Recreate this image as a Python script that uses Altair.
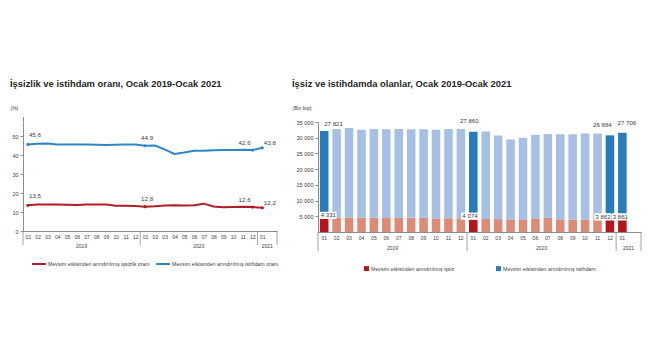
import altair as alt
import pandas as pd

FONT = "Liberation Sans"

# ---------------- data ----------------
month_labels = ["01", "02", "03", "04", "05", "06", "07", "08", "09", "10", "11", "12"]
years = ["2019", "2020", "2021"]
year_bounds = [0, 12, 24, 26]          # category slots where each year block starts/ends
periods = [f"{y}-{m}" for y in ["2019", "2020"] for m in month_labels] + ["2021-01"]
slot_domain = periods + ["2021-02"]    # one empty slot after the last month
highlight = ["2019-01", "2020-01", "2020-12", "2021-01"]

unemp_rate = [13.5, 13.9, 14.0, 14.0, 13.8, 13.7, 13.9, 14.0, 13.9, 13.3, 13.3, 13.2,
              12.8, 13.0, 13.4, 13.5, 13.4, 13.6, 14.4, 12.9, 12.5, 12.6, 12.8, 12.6,
              12.2]
emp_rate = [45.6, 45.9, 46.1, 45.6, 45.5, 45.6, 45.6, 45.4, 45.3, 45.4, 45.6, 45.6,
            44.9, 45.0, 43.0, 40.6, 41.3, 42.2, 42.3, 42.5, 42.6, 42.7, 42.8, 42.6,
            43.8]

unemployed = [4331, 4560, 4630, 4550, 4530, 4480, 4560, 4580, 4545, 4320, 4360, 4330,
              4074, 4150, 4110, 3970, 4020, 4200, 4480, 4020, 3890, 3950, 4010, 3862,
              3861]
employed = [27821, 28240, 28470, 27950, 28270, 28220, 28240, 28120, 28155, 28180, 28440, 28470,
            27860, 27800, 26590, 25460, 25950, 26720, 26660, 27120, 27250, 27380, 27320, 26884,
            27706]

U_RATE = "Mevsim etkisinden arındırılmış işsizlik oranı"
E_RATE = "Mevsim etkisinden arındırılmış istihdam oranı"
U_LBL = "Mevsim etkisinden arındırılmış işsiz"
E_LBL = "Mevsim etkisinden arındırılmış istihdam"
U_LIGHT = "işsiz (diğer aylar)"
E_LIGHT = "istihdam (diğer aylar)"

# ---------------- style ----------------
RED_LINE = "#ad1f25"
BLUE_LINE = "#2f86c6"
DARK_RED = "#b3161c"
SALMON = "#dc8b77"
DARK_BLUE = "#2a7bbb"
LIGHT_BLUE = "#a6c0e4"
AX = "#8c8c8c"
LBL = "#404040"
TXT = "#262626"

month_expr = "datum.value == '2021-02' ? '' : substring(datum.value, 5, 7)"

bounds_df = pd.DataFrame({"b": year_bounds})
years_df = pd.DataFrame({"year": years, "start": year_bounds[:-1], "end": year_bounds[1:]})


def year_layers(h, sep_len, year_dy):
    qx = alt.Scale(domain=[0, 26], nice=False, zero=False)
    seps = alt.Chart(bounds_df).mark_rule(color=AX, strokeWidth=0.8).encode(
        x=alt.X("b:Q", scale=qx, axis=None),
        y=alt.value(h), y2=alt.value(h + sep_len))
    labs = alt.Chart(years_df).transform_calculate(
        mid="(datum.start + datum.end) / 2").mark_text(
        fontSize=5, color=LBL, baseline="middle").encode(
        x=alt.X("mid:Q", scale=qx, axis=None),
        y=alt.value(h + year_dy), text="year:N")
    return alt.layer(seps, labs)


X_AXIS = alt.Axis(title=None, labelExpr=month_expr, ticks=False, labelFontSize=5,
                  labelColor=LBL, labelPadding=3, domainColor=AX, labelAngle=0,
                  grid=False)

# ---------------- left: rates ----------------
W1, H1 = 254, 109
line_df = pd.DataFrame({"period": periods * 2,
                        "series": [U_RATE] * len(periods) + [E_RATE] * len(periods),
                        "value": unemp_rate + emp_rate})

xs1 = alt.Scale(type="point", domain=slot_domain, padding=0.5)
ys1 = alt.Scale(domain=[0, 57.4], nice=False)
Y1_AXIS = alt.Axis(values=[0, 10, 20, 30, 40, 50], title="(%)", titleAngle=0,
                   titleAlign="left", titleBaseline="bottom", titleX=-13, titleY=-12,
                   titleFontSize=5, titleFontWeight="normal", titleColor=LBL,
                   tickSize=3, tickColor=AX, domainColor=AX, labelFontSize=5.5,
                   labelColor=LBL, labelPadding=2, grid=False, labelOverlap=False)
x1 = alt.X("period:N", scale=xs1, axis=X_AXIS)
y1 = alt.Y("value:Q", scale=ys1, axis=Y1_AXIS)

base1 = alt.Chart(line_df)
lines = base1.mark_line(strokeWidth=2).encode(
    x=x1, y=y1,
    color=alt.Color("series:N", scale=alt.Scale(domain=[U_RATE, E_RATE], range=[RED_LINE, BLUE_LINE]),
                    legend=alt.Legend(title=None, orient="none", legendX=8, legendY=134,
                                      direction="horizontal", symbolType="stroke",
                                      symbolStrokeWidth=2, symbolSize=190, labelFontSize=5.3,
                                      labelColor=LBL, columnPadding=2, labelOffset=1,
                                      labelLimit=400)))
pts = base1.transform_filter(
    alt.FieldOneOfPredicate(field="period", oneOf=highlight)).mark_point(
    filled=True, size=10, opacity=1).encode(
    x=x1, y=y1,
    fill=alt.Fill("series:N", scale=alt.Scale(domain=[U_RATE, E_RATE], range=[RED_LINE, BLUE_LINE]),
                  legend=None))

# y-axis line continues a little above the top tick, as in the original
axis_top = alt.Chart(pd.DataFrame({"k": [0]})).mark_rule(color=AX, strokeWidth=1).encode(
    x=alt.value(0.5), y=alt.value(-5), y2=alt.value(0))

left_label_style = {"2019-01": ("left", 1, -9),
                    "2020-01": ("center", 2, -7.5),
                    "2020-12": ("right", -2, -7.5),
                    "2021-01": ("left", 1.5, -5)}
lbl1 = []
for p, (al, dx, dy) in left_label_style.items():
    lbl1.append(base1.transform_filter(alt.datum.period == p).transform_calculate(
        lab="replace(format(datum.value, '.1f'), '.', ',')").mark_text(
        align=al, dx=dx, dy=dy, baseline="middle", fontSize=6.2, color=LBL).encode(
        x=x1, y=y1, text="lab:N"))

left = alt.layer(alt.layer(lines, pts, *lbl1), year_layers(H1, 14, 15), axis_top).resolve_scale(
    x="independent").properties(
    width=W1, height=H1,
    title=alt.TitleParams("İşsizlik ve istihdam oranı, Ocak 2019-Ocak 2021", anchor="start",
                          frame="bounds", fontSize=9.4, fontWeight="bold", color=TXT,
                          offset=16))

# ---------------- right: levels ----------------
W2, H2 = 323, 110
bar_rows = []
for i, p in enumerate(periods):
    hl = p in highlight
    bar_rows.append({"period": p, "key": U_LBL if hl else U_LIGHT, "value": unemployed[i], "ord": 0})
    bar_rows.append({"period": p, "key": E_LBL if hl else E_LIGHT, "value": employed[i], "ord": 1})
bar_df = pd.DataFrame(bar_rows)

xs2 = alt.Scale(type="band", domain=slot_domain, paddingInner=0.31, paddingOuter=0.155)
yscale2 = alt.Scale(domain=[0, 35000], nice=False)
Y2_AXIS = alt.Axis(values=[5000, 10000, 15000, 20000, 25000, 30000, 35000],
                   labelExpr="replace(format(datum.value, ','), ',', ' ')",
                   title="(Bin kişi)", titleAngle=0, titleAlign="left",
                   titleBaseline="bottom", titleX=-26, titleY=-12, titleFontSize=5,
                   titleFontWeight="normal", titleColor=LBL, tickSize=3, tickColor=AX,
                   domainColor=AX, labelFontSize=5.6, labelColor=LBL, labelPadding=2,
                   grid=False, labelOverlap=False)
x2 = alt.X("period:N", scale=xs2, axis=X_AXIS)
y2 = alt.Y("value:Q", stack="zero", scale=yscale2, axis=Y2_AXIS)

bars = alt.Chart(bar_df).mark_bar().encode(
    x=x2, y=y2,
    color=alt.Color("key:N",
                    scale=alt.Scale(domain=[U_LBL, U_LIGHT, E_LBL, E_LIGHT],
                                    range=[DARK_RED, SALMON, DARK_BLUE, LIGHT_BLUE]),
                    legend=alt.Legend(title=None, values=[U_LBL, E_LBL], orient="none",
                                      legendX=45, legendY=143, direction="horizontal",
                                      symbolType="square", symbolSize=25, labelFontSize=5.3,
                                      labelColor=LBL, columnPadding=40, labelOffset=1,
                                      labelLimit=400)),
    order=alt.Order("ord:Q", sort="ascending"))

lab_df = pd.DataFrame({"period": periods, "u": unemployed, "e": employed})
lab_df["total"] = lab_df["u"] + lab_df["e"]
# (period, field, align, dx, dy, white-box x offset)
right_label_style = [
    ("2019-01", "e", "left", 0, -7, None), ("2019-01", "u", "left", -3.5, -3, 3.7),
    ("2020-01", "e", "center", -4, -11, None), ("2020-01", "u", "center", -3.3, -3, -3.5),
    ("2020-12", "e", "center", -7.6, -10, None), ("2020-12", "u", "center", -7, -3, -7),
    ("2021-01", "e", "center", 4.5, -10, None), ("2021-01", "u", "center", -2, -3, -2),
]
box_shape = "M-1,-0.42L1,-0.42L1,0.42L-1,0.42Z"
boxes, lbl2 = [], []
for p, fld, al, dx, dy, bx in right_label_style:
    ypos = "total" if fld == "e" else "u"
    src = alt.Chart(lab_df).transform_filter(alt.datum.period == p)
    yenc = alt.Y(f"{ypos}:Q", scale=yscale2, axis=Y2_AXIS)
    if bx is not None:
        boxes.append(src.mark_point(shape=box_shape, size=300, filled=True, color="white",
                                    opacity=1, xOffset=bx, yOffset=dy).encode(x=x2, y=yenc))
    lbl2.append(src.transform_calculate(
        lab=f"replace(format(datum.{fld}, ','), ',', ' ')").mark_text(
        align=al, dx=dx, dy=dy, baseline="middle", fontSize=6.1, color=LBL).encode(
        x=x2, y=yenc, text="lab:N"))

right = alt.layer(alt.layer(bars, *boxes, *lbl2), year_layers(H2, 19, 16)).resolve_scale(
    x="independent").properties(
    width=W2, height=H2,
    title=alt.TitleParams("İşsiz ve istihdamda olanlar, Ocak 2019-Ocak 2021", anchor="start",
                          frame="bounds", fontSize=9.4, fontWeight="bold", color=TXT,
                          offset=16))

chart = alt.hconcat(left, right, spacing=13).resolve_scale(
    color="independent", fill="independent", x="independent", y="independent"
).properties(
    padding={"left": 2, "top": 70, "right": 0, "bottom": 0}
).configure(font=FONT).configure_view(stroke=None)

chart.save("out.html", embed_options={"renderer": "svg", "actions": False})
